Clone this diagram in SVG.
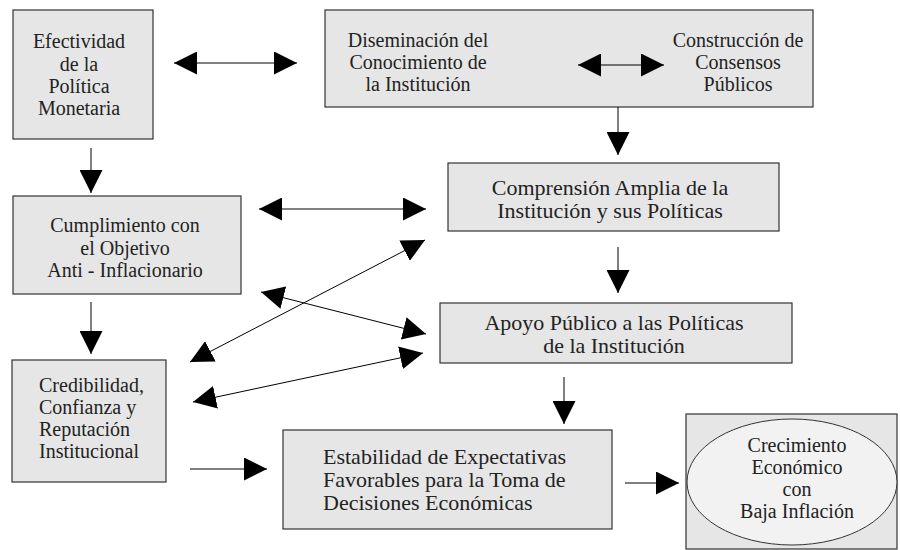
<svg xmlns="http://www.w3.org/2000/svg" width="900" height="550" viewBox="0 0 900 550">
<style>
.box{fill:#e6e6e6;stroke:#333;stroke-width:1.2}
.ell{fill:#f2f2f2;stroke:#333;stroke-width:1}
.t20{font-family:"Liberation Serif","Times New Roman",serif;font-size:20px;fill:#222;text-anchor:middle}
.t22{font-family:"Liberation Serif","Times New Roman",serif;font-size:22px;fill:#222;text-anchor:middle}
.l20{font-family:"Liberation Serif","Times New Roman",serif;font-size:20px;fill:#222}
.l22{font-family:"Liberation Serif","Times New Roman",serif;font-size:22px;fill:#222}
.c{stroke:#000;stroke-width:1;fill:none}
.one{marker-end:url(#ah)}
.two{marker-start:url(#ah);marker-end:url(#ah)}
</style>
<defs>
<marker id="ah" viewBox="0 0 23 23" refX="23" refY="11.5" markerWidth="23" markerHeight="23" markerUnits="userSpaceOnUse" orient="auto-start-reverse">
<path d="M0,0 L23,11.5 L0,23 Z" fill="#000"/>
</marker>
</defs>
<rect x="0" y="0" width="900" height="550" fill="#fff"/>

<g id="efectividad">
<rect class="box" x="13" y="10" width="140" height="129"/>
<text class="t20" x="79" y="48">Efectividad</text>
<text class="t20" x="79" y="71">de la</text>
<text class="t20" x="79" y="93">Política</text>
<text class="t20" x="79" y="115">Monetaria</text>
</g>

<g id="diseminacion">
<rect class="box" x="325" y="10" width="488" height="97"/>
<text class="t20" x="418" y="47">Diseminación del</text>
<text class="t20" x="418" y="69">Conocimiento de</text>
<text class="t20" x="418" y="91">la Institución</text>
<text class="t20" x="738" y="47">Construcción de</text>
<text class="t20" x="738" y="69">Consensos</text>
<text class="t20" x="738" y="91">Públicos</text>
</g>

<g id="cumplimiento">
<rect class="box" x="13" y="196" width="228" height="98"/>
<text class="t20" x="125" y="232">Cumplimiento con</text>
<text class="t20" x="125" y="255">el Objetivo</text>
<text class="t20" x="125" y="277">Anti - Inflacionario</text>
</g>

<g id="comprension">
<rect class="box" x="448" y="163" width="331" height="68"/>
<text class="t22" x="610" y="195">Comprensión Amplia de la</text>
<text class="t22" x="610" y="218">Institución y sus Políticas</text>
</g>

<g id="apoyo">
<rect class="box" x="440" y="303" width="352" height="60"/>
<text class="t22" x="614" y="330">Apoyo Público a las Políticas</text>
<text class="t22" x="614" y="353">de la Institución</text>
</g>

<g id="credibilidad">
<rect class="box" x="12" y="360" width="154" height="122"/>
<text class="l20" x="39" y="392">Credibilidad,</text>
<text class="l20" x="39" y="414">Confianza y</text>
<text class="l20" x="39" y="436">Reputación</text>
<text class="l20" x="39" y="458">Institucional</text>
</g>

<g id="estabilidad">
<rect class="box" x="283" y="430" width="329" height="99"/>
<text class="l22" x="323" y="464">Estabilidad de Expectativas</text>
<text class="l22" x="323" y="487">Favorables para la Toma de</text>
<text class="l22" x="323" y="510">Decisiones Económicas</text>
</g>

<g id="crecimiento">
<rect class="box" x="686" y="414" width="211" height="135"/>
<ellipse class="ell" cx="792" cy="482" rx="105" ry="63"/>
<text class="t20" x="797" y="452">Crecimiento</text>
<text class="t20" x="797" y="474">Económico</text>
<text class="t20" x="797" y="496">con</text>
<text class="t20" x="797" y="518">Baja Inflación</text>
</g>

<g id="connectors">
<line class="c two" x1="174" y1="63" x2="297" y2="63"/>
<line class="c two" x1="578" y1="65" x2="664" y2="65"/>
<line class="c one" x1="91" y1="148" x2="91" y2="193"/>
<line class="c one" x1="618" y1="107" x2="618" y2="155"/>
<line class="c two" x1="259" y1="209" x2="426" y2="209"/>
<line class="c two" x1="190" y1="362" x2="425" y2="240"/>
<line class="c two" x1="261" y1="292" x2="426" y2="334"/>
<line class="c one" x1="618" y1="247" x2="618" y2="293"/>
<line class="c one" x1="91" y1="302" x2="91" y2="354"/>
<line class="c two" x1="193" y1="402" x2="423" y2="353"/>
<line class="c one" x1="564" y1="377" x2="564" y2="424"/>
<line class="c one" x1="190" y1="469" x2="267" y2="469"/>
<line class="c one" x1="625" y1="483" x2="679" y2="483"/>
</g>
</svg>
